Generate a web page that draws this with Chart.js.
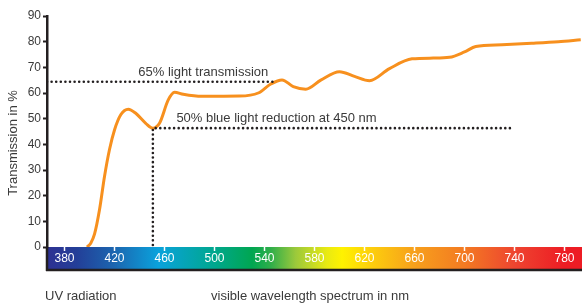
<!DOCTYPE html>
<html>
<head>
<meta charset="utf-8">
<script src="https://cdn.jsdelivr.net/npm/chart.js@4"></script>
<style>
  html, body { margin: 0; padding: 0; background: #fff; }
  #wrap { width: 582px; height: 304px; }
</style>
</head>
<body>
<div id="wrap"><canvas id="specChart" width="582" height="304"></canvas></div>
<script>
// wavelength (nm) vs transmission (%)
const wavelengths = [398, 401, 404, 408, 412, 416, 420, 425, 431, 437, 445, 450.7, 456, 463, 468, 475, 490, 520, 535, 545, 554, 563, 573, 585, 600, 612, 624, 640, 658, 675, 688, 700, 709, 730, 754, 775, 793];
const transmission = [0, 1.5, 5, 14.5, 27.5, 38, 45.6, 51.5, 53.7, 52.1, 48.2, 46.3, 48.2, 57.3, 60.3, 59.5, 58.7, 58.8, 60, 63.5, 65.1, 62.5, 61.5, 65, 68.3, 66.5, 64.8, 69.5, 73.3, 73.6, 73.9, 76, 78.1, 78.8, 79.4, 80, 80.7];

const xTickValues = [380, 420, 460, 500, 540, 580, 620, 660, 700, 740, 780];

// reference lines (dotted)
const lightLineX = [366, 548];
const lightLineY = [64.4, 64.4];
const blueLineX = [450.7, 450.7, 737];
const blueLineY = [0.8, 46.3, 46.3];

const lightLabel = '65% light transmission';
const blueLabel = '50% blue light reduction at 450 nm';

const FONT = "'Liberation Sans', Arial, Helvetica, sans-serif";

function pts(xs, ys) {
  return xs.map(function(x, i) { return { x: x, y: ys[i] }; });
}

// spectrum colour bar under the plot + extra axis lines + free texts
const spectrumPlugin = {
  id: 'spectrum',
  beforeDraw: function(chart) {
    const ctx = chart.ctx;
    const xs = chart.scales.x;
    const area = chart.chartArea;
    const left = area.left, right = chart.width;
    const top = area.bottom, bottom = area.bottom + 22;
    const g = ctx.createLinearGradient(left, 0, right, 0);
    const stops = [
      [366, '#2e3192'], [390, '#233f98'], [420, '#1c66b0'], [455, '#0aa2dc'],
      [500, '#00a78e'], [530, '#00a651'], [545, '#2fae4a'], [565, '#9cc93b'],
      [590, '#e9ea12'], [602, '#fff200'], [625, '#fdcf0c'], [660, '#f7a01c'],
      [700, '#f37a22'], [740, '#ee4530'], [780, '#ed1c24'], [794, '#ed1c24']
    ];
    stops.forEach(function(s) {
      const p = (xs.getPixelForValue(s[0]) - left) / (right - left);
      g.addColorStop(Math.min(1, Math.max(0, p)), s[1]);
    });
    ctx.save();
    ctx.fillStyle = g;
    ctx.fillRect(left, top, right - left, bottom - top);
    ctx.restore();
  },
  afterDraw: function(chart) {
    const ctx = chart.ctx;
    const xs = chart.scales.x, ys = chart.scales.y;
    const area = chart.chartArea;
    ctx.save();
    // bottom black line and y axis continuation
    ctx.strokeStyle = '#231f20';
    ctx.lineWidth = 2.5;
    ctx.beginPath();
    ctx.moveTo(area.left - 1, area.bottom + 23);
    ctx.lineTo(chart.width, area.bottom + 23);
    ctx.moveTo(area.left, area.bottom);
    ctx.lineTo(area.left, area.bottom + 24);
    ctx.stroke();

    // annotation texts
    ctx.fillStyle = '#3a3a3a';
    ctx.font = '13px ' + FONT;
    ctx.textBaseline = 'middle';
    ctx.textAlign = 'left';
    ctx.fillText(lightLabel, xs.getPixelForValue(439), ys.getPixelForValue(lightLineY[0]) - 9.5);
    ctx.fillText(blueLabel, xs.getPixelForValue(469.5), ys.getPixelForValue(blueLineY[1]) - 9.5);

    // axis titles
    ctx.fillText('UV radiation', 45, 296);
    ctx.fillText('visible wavelength spectrum in nm', 211, 296);
    ctx.translate(13, 143);
    ctx.rotate(-Math.PI / 2);
    ctx.textAlign = 'center';
    ctx.fillText('Transmission in %', 0, 0);
    ctx.restore();
  }
};

const dotted = {
  borderColor: '#231f20',
  borderWidth: 2.6,
  borderDash: [0, 4.6],
  borderCapStyle: 'round',
  pointRadius: 0,
  tension: 0,
  fill: false
};

new Chart(document.getElementById('specChart').getContext('2d'), {
  type: 'line',
  data: {
    datasets: [
      Object.assign({ label: 'light', data: pts(lightLineX, lightLineY) }, dotted),
      Object.assign({ label: 'blue', data: pts(blueLineX, blueLineY) }, dotted),
      {
        label: 'Transmission',
        data: pts(wavelengths, transmission),
        borderColor: '#f7901e',
        borderWidth: 3,
        pointRadius: 0,
        cubicInterpolationMode: 'monotone',
        fill: false
      }
    ]
  },
  options: {
    responsive: false,
    animation: false,
    layout: { padding: { top: 16, right: 0, bottom: 33, left: 0 } },
    plugins: { legend: { display: false }, tooltip: { enabled: false } },
    scales: {
      x: {
        type: 'linear',
        min: 366,
        max: 794,
        afterBuildTicks: function(axis) {
          axis.ticks = xTickValues.map(function(v) { return { value: v }; });
        },
        afterFit: function(axis) { axis.height = 24; },
        border: { display: false },
        grid: {
          display: true,
          drawOnChartArea: false,
          drawTicks: true,
          tickLength: 4,
          tickColor: '#ffffff',
          tickWidth: 1.5
        },
        ticks: {
          color: '#ffffff',
          font: { family: FONT, size: 12 },
          padding: 0,
          maxRotation: 0,
          autoSkip: false
        }
      },
      y: {
        min: 0,
        max: 90,
        afterFit: function(axis) { axis.width = 47; },
        border: { display: true, color: '#231f20', width: 2.5 },
        grid: {
          display: true,
          drawOnChartArea: false,
          drawTicks: true,
          tickLength: 4,
          tickColor: '#231f20',
          tickWidth: 2
        },
        ticks: {
          stepSize: 10,
          color: '#3a3a3a',
          font: { family: FONT, size: 12 },
          padding: 2
        }
      }
    }
  },
  plugins: [spectrumPlugin]
});
</script>
</body>
</html>
